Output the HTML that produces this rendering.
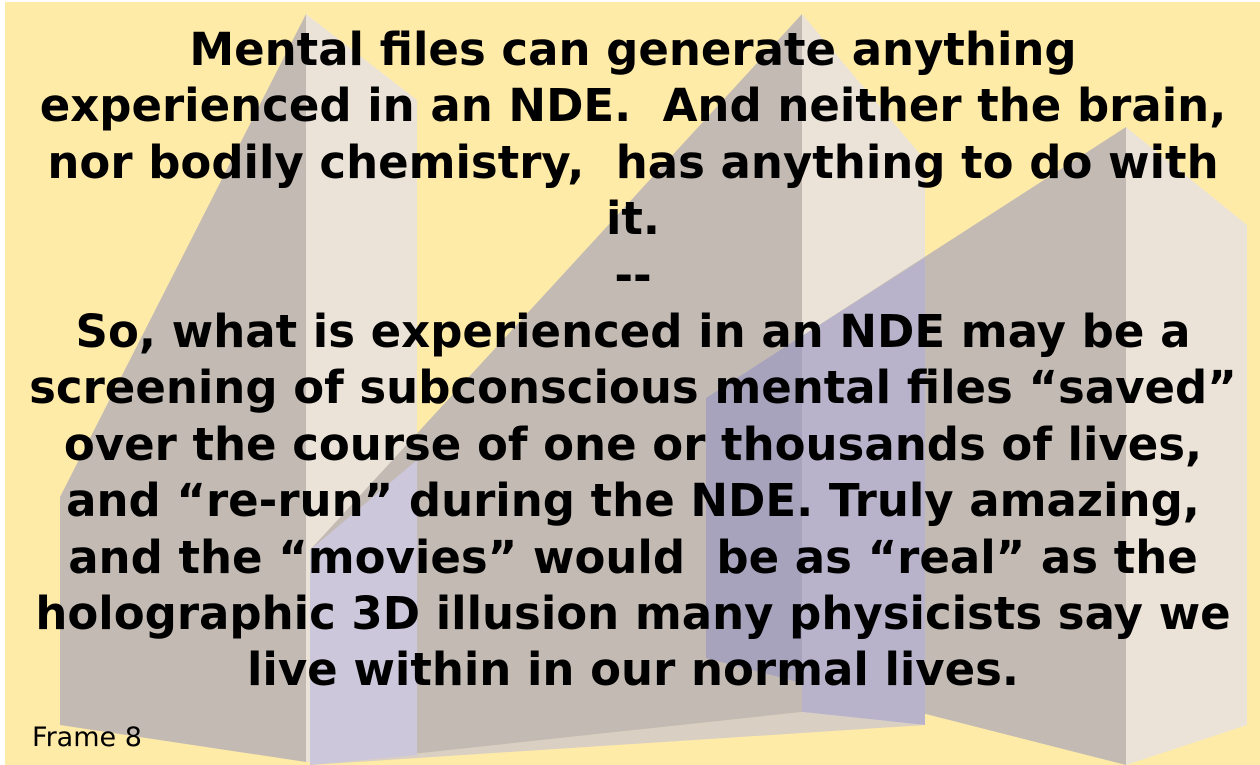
<!DOCTYPE html>
<html><head><meta charset="utf-8">
<style>
html,body{margin:0;padding:0;width:1260px;height:765px;overflow:hidden;background:#fff;}
#stage{position:absolute;left:0;top:0;width:1260px;height:765px;}
#txt{position:absolute;left:0;top:22px;width:1266px;text-align:center;font-family:"DejaVu Sans","Liberation Sans",sans-serif;font-weight:bold;font-size:45px;line-height:56.4px;color:#000;white-space:nowrap;}
#frame{position:absolute;left:32px;top:722px;font-family:"DejaVu Sans","Liberation Sans",sans-serif;font-size:27px;color:#000;}
</style></head><body>
<svg id="stage" width="1260" height="765" viewBox="0 0 1260 765">
<rect x="5" y="2" width="1255" height="763" fill="#FFEBA8"/>
<g>
<polygon points="60,497 306,14 306,762 60,725" fill="#C2BAB3"/>
<polygon points="306,14 417,100 417,755 306,762" fill="#EBE3D8"/>
</g>
<polygon points="310,765 802,712 925,725 310,765" fill="#D9CFC3"/>
<g>
<polygon points="310,550 802,14 802,712 310,765" fill="#C2BAB3"/>
<polygon points="802,14 925,160 925,725 802,712" fill="#EBE3D8"/>
<polygon points="310,550 417,460 417,755 310,765" fill="#CCC7DB"/>
</g>
<g>
<polygon points="706,398 1126,127 1126,765 706,658" fill="#C2BAB3"/>
<polygon points="1126,127 1247,225 1247,725 1126,765" fill="#EBE3D8"/>
<polygon points="706,398 802,336 802,683 706,658" fill="#A8A3BD"/>
<polygon points="802,336 925,258 925,725 802,712 802,683" fill="#B8B3CB"/>
</g>
</svg>
<div id="txt">Mental files can generate anything<br>experienced in an NDE.&nbsp; And neither the brain,<br>nor bodily chemistry,&nbsp; has anything to do with<br>it.<br>--<br>So, what is experienced in an NDE may be a<br>screening of subconscious mental files “saved”<br>over the course of one or thousands of lives,<br>and “re-run” during the NDE. Truly amazing,<br>and the “movies” would&nbsp; be as “real” as the<br>holographic 3D illusion many physicists say we<br>live within in our normal lives.</div>
<div id="frame">Frame 8</div>
</body></html>
